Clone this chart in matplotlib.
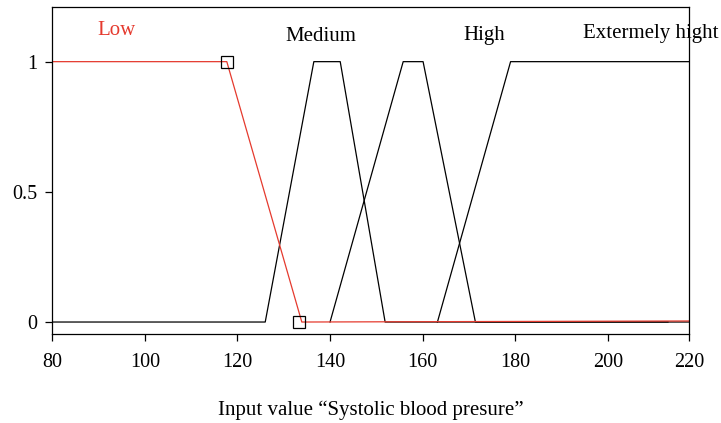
import matplotlib
matplotlib.use("Agg")
import matplotlib.pyplot as plt

# membership functions
low_x = [80, 117.7, 133.9, 217.6]
low_y = [1, 1, 0, 0.004]
low_marks_x = [117.7, 133.2]
low_marks_y = [1, 0]

medium_x = [80, 126.0, 136.5, 142.2, 151.9, 213]
medium_y = [0, 0, 1, 1, 0, 0]
high_x = [140.0, 155.8, 160.1, 171.4, 217.6]
high_y = [0, 1, 1, 0, 0]
ext_x = [163.2, 179.0, 217.6]
ext_y = [0, 1, 1]

names = ["Low", "Medium", "High", "Extermely hight"]
name_x = [89.7, 130.3, 168.9, 194.6]
name_y = [1.12, 1.095, 1.10, 1.11]

xtick_pos = [80, 100, 120, 140, 160, 180, 200, 217.6]
xtick_lab = ["80", "100", "120", "140", "160", "180", "200", "220"]
ytick_pos = [0, 0.5, 1]
ytick_lab = ["0", "0.5", "1"]

plt.rcParams['font.family'] = ['Liberation Serif', 'DejaVu Serif']
red = '#e53a2e'

fig = plt.figure(figsize=(7.21, 4.23), dpi=100)
ax = fig.add_axes([0.0725, 0.2104, 0.8835, 0.7731])

ax.plot(medium_x, medium_y, color='black', lw=0.9)
ax.plot(high_x, high_y, color='black', lw=0.9)
ax.plot(ext_x, ext_y, color='black', lw=0.9)
ax.plot(low_x, low_y, color=red, lw=0.9)
ax.plot(low_marks_x, low_marks_y, ls='none', marker='s', ms=8,
        mfc='none', mec='black', mew=0.9)

for n, x, y in zip(names, name_x, name_y):
    ax.text(x, y, n, fontsize=15, va='center', ha='left',
            color=red if n == "Low" else 'black', clip_on=False)

ax.set_xlim(80, 217.6)
ax.set_ylim(-0.046, 1.21)
ax.set_xticks(xtick_pos, xtick_lab)
ax.set_yticks(ytick_pos, ytick_lab)
ax.tick_params(direction='out', length=5, width=0.9, labelsize=14.5, pad=6)
ax.tick_params(axis='x', pad=9)
for s in ax.spines.values():
    s.set_linewidth(0.9)

ax.set_xlabel("Input value \u201cSystolic blood presure\u201d", fontsize=15, labelpad=20)

fig.savefig("out.png", dpi=100)
